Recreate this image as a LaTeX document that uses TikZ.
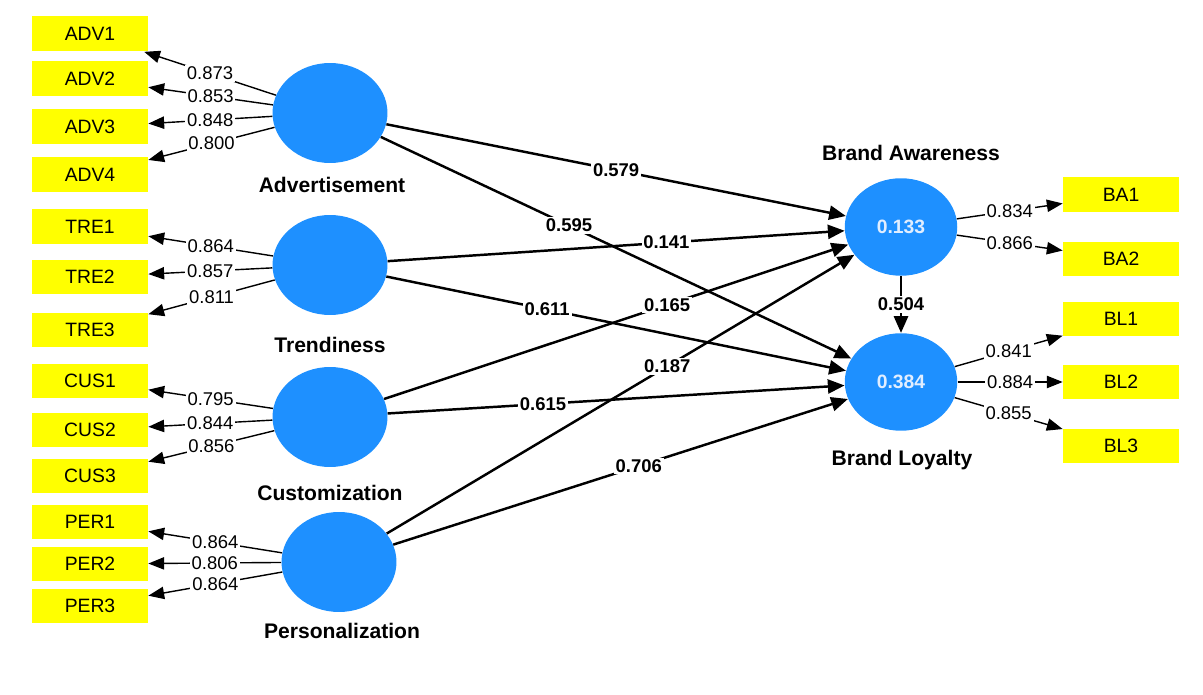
\documentclass[tikz,border=0pt]{standalone}
\usepackage{fontspec}
\setmainfont{Liberation Sans}
\usepackage{xcolor}
\usepackage{tikz}
\usetikzlibrary{arrows.meta,shapes.geometric}
\definecolor{plsblue}{RGB}{30,144,255}
\definecolor{plsyellow}{RGB}{255,255,0}
\definecolor{rsqtext}{RGB}{225,238,255}

\begin{document}
\begin{tikzpicture}[x=0.02cm, y=-0.02cm]
\tikzstyle{item}=[fill=plsyellow, minimum width=2.32cm, minimum height=0.7cm, inner sep=0pt, font=\fontsize{11}{13}\selectfont]
\tikzstyle{latent}=[ellipse, fill=plsblue, minimum width=2.3cm, minimum height=2cm, inner sep=0pt, text=rsqtext, font=\bfseries\fontsize{11}{13}\selectfont]
\tikzstyle{title}=[font=\bfseries\fontsize{12}{14}\selectfont]
\tikzstyle{load}=[-{Triangle[length=9pt,width=7pt]}, line width=0.8pt]
\tikzstyle{coef}=[-{Triangle[length=9.5pt,width=8pt]}, line width=1.4pt]
\tikzstyle{val}=[fill=white, inner sep=1pt, font=\fontsize{10.5}{12}\selectfont]
\tikzstyle{bval}=[val, font=\bfseries\fontsize{10.5}{12}\selectfont]
\useasboundingbox (0,0) rectangle (1203,695);

% indicators, left
\node[item] (adv1) at (90,34) {ADV1};
\node[item] (adv2) at (90,79) {ADV2};
\node[item] (adv3) at (90,127) {ADV3};
\node[item] (adv4) at (90,175) {ADV4};
\node[item] (tre1) at (90,227) {TRE1};
\node[item] (tre2) at (90,277) {TRE2};
\node[item] (tre3) at (90,330) {TRE3};
\node[item] (cus1) at (90,381) {CUS1};
\node[item] (cus2) at (90,430) {CUS2};
\node[item] (cus3) at (90,476) {CUS3};
\node[item] (per1) at (90,522) {PER1};
\node[item] (per2) at (90,564) {PER2};
\node[item] (per3) at (90,606) {PER3};

% indicators, right
\node[item] (ba1) at (1121,195) {BA1};
\node[item] (ba2) at (1121,259) {BA2};
\node[item] (bl1) at (1121,319) {BL1};
\node[item] (bl2) at (1121,382) {BL2};
\node[item] (bl3) at (1121,446) {BL3};

% constructs
\node[latent] (adv) at (330,113) {};
\node[latent] (tre) at (330,265) {};
\node[latent] (cus) at (330,417) {};
\node[latent] (per) at (339,562) {};
\node[latent, minimum width=2.25cm, minimum height=1.95cm] (ba) at (901,227) {0.133};
\node[latent, minimum width=2.25cm, minimum height=1.95cm] (bl) at (901,382) {0.384};

\node[title] (advname) at (332,185) {Advertisement};
\node[title] (trename) at (330,345) {Trendiness};
\node[title] (cusname) at (330,493) {Customization};
\node[title] (pername) at (342,631) {Personalization};
\node[title] (baname) at (911,153) {Brand Awareness};
\node[title] (blname) at (902,460) {Brand Loyalty};

\path[load]
(adv) edge node[val] {0.873} (adv1)
      edge node[val] {0.853} (adv2)
      edge node[val] {0.848} (adv3)
      edge node[val] {0.800} (adv4)
(tre) edge node[val] {0.864} (tre1)
      edge node[val] {0.857} (tre2)
      edge node[val] {0.811} (tre3)
(cus) edge node[val] {0.795} (cus1)
      edge node[val] {0.844} (cus2)
      edge node[val] {0.856} (cus3)
(per) edge node[val] {0.864} (per1)
      edge node[val] {0.806} (per2)
      edge node[val] {0.864} (per3)
(ba)  edge node[val] {0.834} (ba1)
      edge node[val] {0.866} (ba2)
(bl)  edge node[val] {0.841} (bl1)
      edge node[val] {0.884} (bl2)
      edge node[val] {0.855} (bl3);

\path[coef]
(adv) edge node[bval, pos=0.50] {0.579} (ba)
      edge node[bval, pos=0.40] {0.595} (bl)
(tre) edge node[bval, pos=0.61] {0.141} (ba)
      edge node[bval, pos=0.35] {0.611} (bl)
(cus) edge node[bval, pos=0.61] {0.165} (ba)
      edge node[bval, pos=0.34] {0.615} (bl)
(per) edge node[bval, pos=0.60] {0.187} (ba)
      edge node[bval, pos=0.54] {0.706} (bl)
(ba)  edge node[bval] {0.504} (bl);

\end{tikzpicture}
\end{document}
